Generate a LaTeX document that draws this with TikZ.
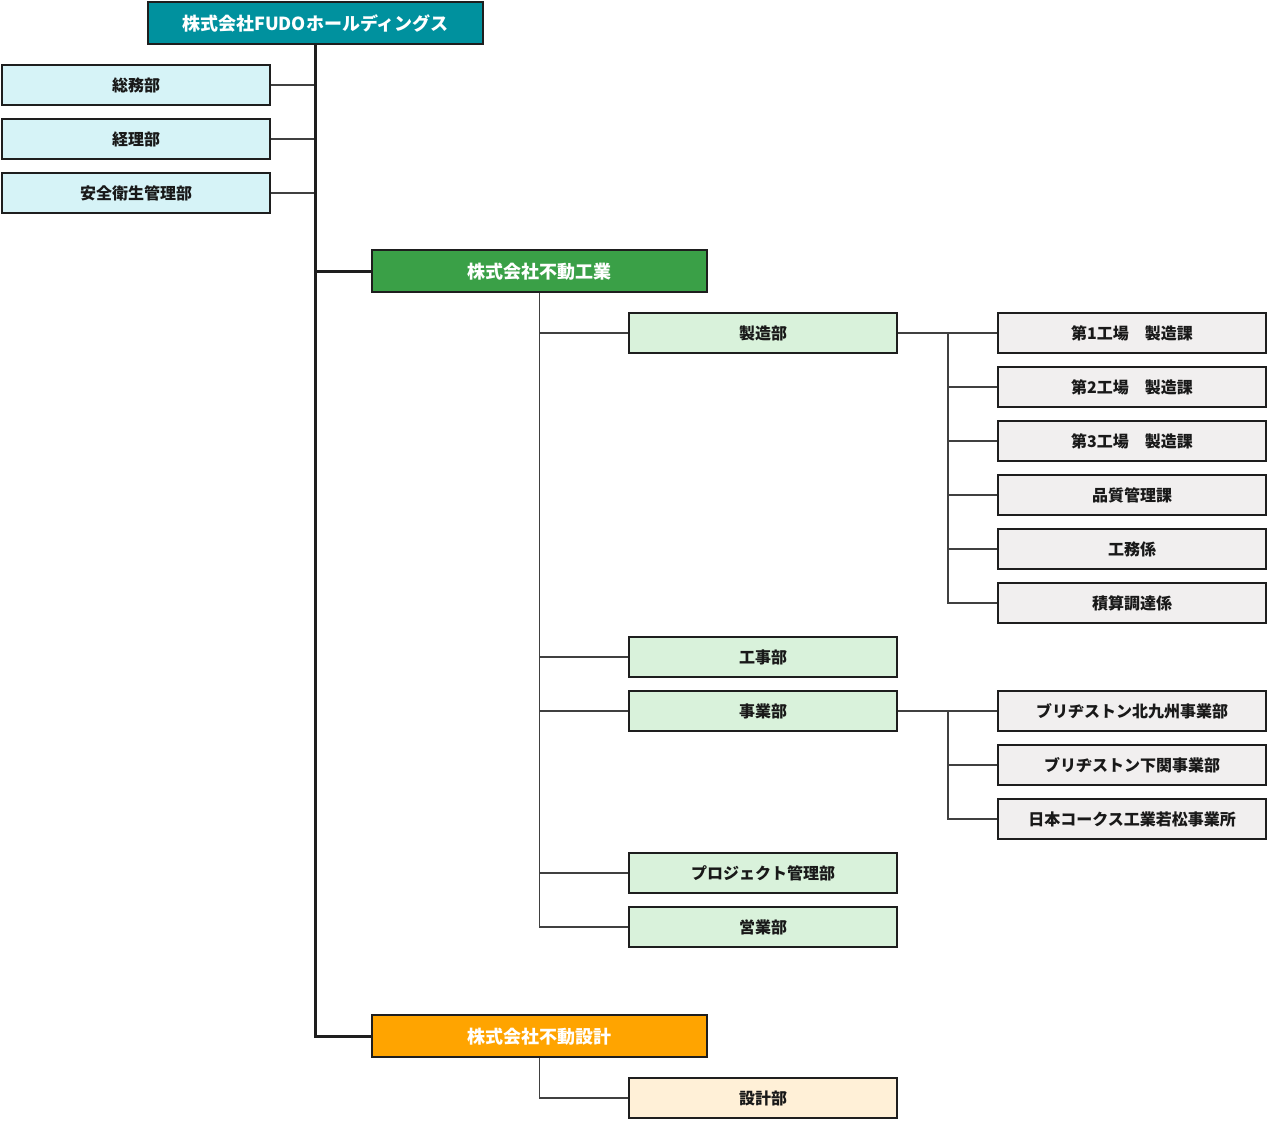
\documentclass[tikz,border=0pt]{standalone}
\usepackage{fontspec}
\setmainfont{Noto Sans CJK JP}

\definecolor{hdteal}{HTML}{00919E}
\definecolor{cogreen}{HTML}{3AA047}
\definecolor{coorange}{HTML}{FFA400}
\definecolor{lightcyan}{HTML}{D6F3F7}
\definecolor{lightgreen}{HTML}{D9F2DB}
\definecolor{lightgray}{HTML}{F1EFEF}
\definecolor{lightcream}{HTML}{FFF0D7}
\definecolor{edge}{HTML}{1E1E1E}

\tikzset{
	unitbox/.style = {draw = edge, line width = 2.2pt, minimum width = 268pt, minimum height = 40pt,
		inner sep = 0pt, text = black!90, font = \bfseries\fontsize{16}{19}\selectfont,
		text depth = 0pt, text height = 13.5pt},
	corpbox/.style = {unitbox, minimum width = 335pt, minimum height = 42pt, text = white,
		font = \bfseries\fontsize{18}{21}\selectfont, text height = 14.5pt},
	link/.style = {draw = black!75, line width = 1.8pt},
	trunk/.style = {draw = edge, line width = 3pt}
}

\begin{document}
\begin{tikzpicture}[x = 1pt, y = -1pt]

	\useasboundingbox (0, 0) rectangle (1268, 1120);

	% Holding company and staff departments

	\node [corpbox, fill = hdteal] (hd) at (315.5, 23) {株式会社FUDOホールディングス};
	\node [unitbox, fill = lightcyan] (soumu) at (136, 85) {総務部};
	\node [unitbox, fill = lightcyan] (keiri) at (136, 139) {経理部};
	\node [unitbox, fill = lightcyan] (anzen) at (136, 193) {安全衛生管理部};

	% Group companies

	\node [corpbox, fill = cogreen] (kogyo) at (539.5, 271) {株式会社不動工業};
	\node [corpbox, fill = coorange] (sekkei) at (539.5, 1036) {株式会社不動設計};

	% Departments of 不動工業

	\node [unitbox, fill = lightgreen] (seizo) at (763, 333) {製造部};
	\node [unitbox, fill = lightgreen] (koji) at (763, 657) {工事部};
	\node [unitbox, fill = lightgreen] (jigyo) at (763, 711) {事業部};
	\node [unitbox, fill = lightgreen] (pm) at (763, 873) {プロジェクト管理部};
	\node [unitbox, fill = lightgreen] (eigyo) at (763, 927) {営業部};

	% Sections

	\node [unitbox, fill = lightgray] (sec1) at (1132, 333) {第1工場　製造課};
	\node [unitbox, fill = lightgray] (sec2) at (1132, 387) {第2工場　製造課};
	\node [unitbox, fill = lightgray] (sec3) at (1132, 441) {第3工場　製造課};
	\node [unitbox, fill = lightgray] (qc) at (1132, 495) {品質管理課};
	\node [unitbox, fill = lightgray] (komu) at (1132, 549) {工務係};
	\node [unitbox, fill = lightgray] (sekisan) at (1132, 603) {積算調達係};
	\node [unitbox, fill = lightgray] (bskk) at (1132, 711) {ブリヂストン北九州事業部};
	\node [unitbox, fill = lightgray] (bssm) at (1132, 765) {ブリヂストン下関事業部};
	\node [unitbox, fill = lightgray] (ncok) at (1132, 819) {日本コークス工業若松事業所};

	% Departments of 不動設計

	\node [unitbox, fill = lightcream] (sekkeibu) at (763, 1098) {設計部};

	% Trunk

	\coordinate (spine) at (315, 1036);
	\draw [link] (soumu.east) -- (soumu.east -| spine);
	\draw [link] (keiri.east) -- (keiri.east -| spine);
	\draw [link] (anzen.east) -- (anzen.east -| spine);
	\draw [trunk] (kogyo.west) -- (kogyo.west -| spine);
	\draw [trunk] (hd.south -| spine) -- (spine) -- (sekkei.west);

	% Branches of 不動工業

	\draw [link] (kogyo.south) |- (eigyo.west);
	\draw [link] (seizo.west -| kogyo.south) -- (seizo.west);
	\draw [link] (koji.west -| kogyo.south) -- (koji.west);
	\draw [link] (jigyo.west -| kogyo.south) -- (jigyo.west);
	\draw [link] (pm.west -| kogyo.south) -- (pm.west);

	% Sections of 製造部 and 事業部

	\coordinate (fork) at (948, 0);
	\draw [link] (seizo.east) -- (sec1.west);
	\draw [link] (sec1.west -| fork) |- (sekisan.west);
	\draw [link] (sec2.west -| fork) -- (sec2.west);
	\draw [link] (sec3.west -| fork) -- (sec3.west);
	\draw [link] (qc.west -| fork) -- (qc.west);
	\draw [link] (komu.west -| fork) -- (komu.west);
	\draw [link] (jigyo.east) -- (bskk.west);
	\draw [link] (bskk.west -| fork) |- (ncok.west);
	\draw [link] (bssm.west -| fork) -- (bssm.west);

	% Branch of 不動設計

	\draw [link] (sekkei.south) |- (sekkeibu.west);

\end{tikzpicture}
\end{document}
